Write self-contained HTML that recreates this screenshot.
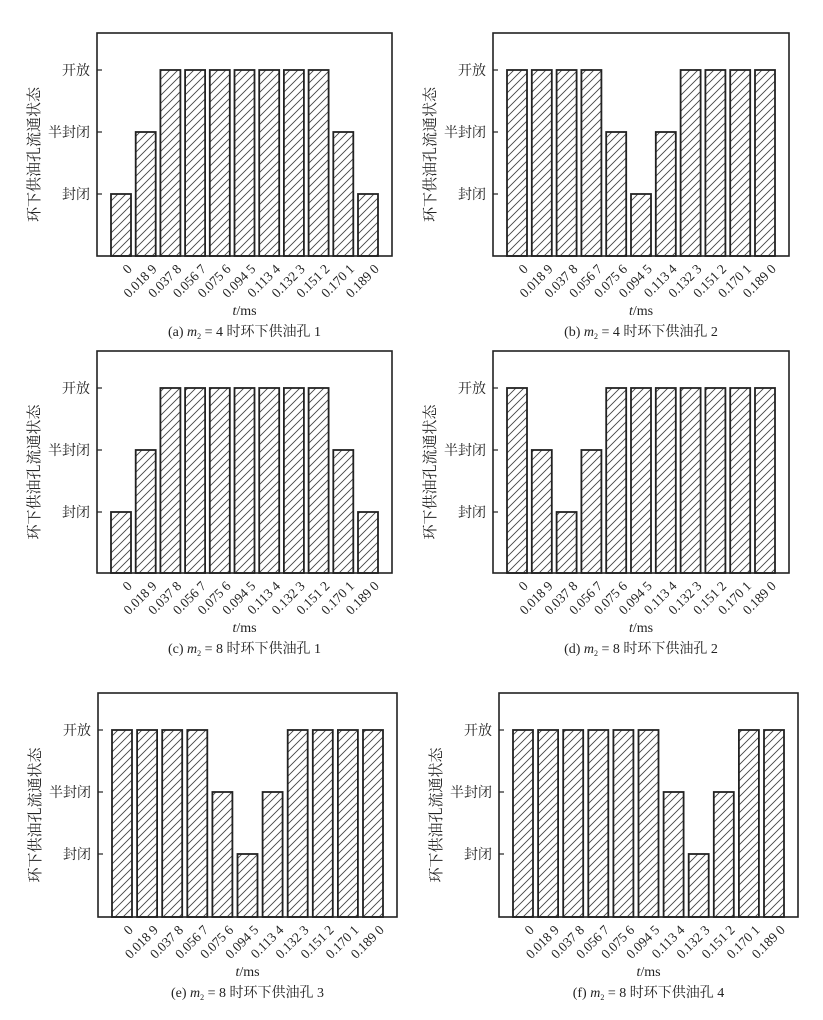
<!DOCTYPE html>
<html><head><meta charset="utf-8"><style>
body{margin:0;background:#fff;}
svg{display:block;}
text{font-family:"Liberation Serif","Noto Serif CJK SC","Noto Sans CJK SC",serif;fill:#222;}
</style></head><body>
<svg id="s" width="823" height="1020" xmlns="http://www.w3.org/2000/svg">
<defs>
<pattern id="h" patternUnits="userSpaceOnUse" width="8" height="8">
<path d="M-2,2 L2,-2 M0,8 L8,0 M6,10 L10,6" stroke="#444" stroke-width="0.9"/>
</pattern>
</defs>
</svg>
<script>
var s=document.getElementById('s'),NS="http://www.w3.org/2000/svg";
function el(t,a,txt){var e=document.createElementNS(NS,t);for(var k in a)e.setAttribute(k,a[k]);if(txt!=null)e.textContent=txt;s.appendChild(e);return e;}
var labs=["0","0.018 9","0.037 8","0.056 7","0.075 6","0.094 5","0.113 4","0.132 3","0.151 2","0.170 1","0.189 0"];
var P=[
[97,33,295,223,[1,2,3,3,3,3,3,3,3,2,1],"(a) ","4","1"],
[493,33,296,223,[3,3,3,3,2,1,2,3,3,3,3],"(b) ","4","2"],
[97,351,295,222,[1,2,3,3,3,3,3,3,3,2,1],"(c) ","8","1"],
[493,351,296,222,[3,2,1,2,3,3,3,3,3,3,3],"(d) ","8","2"],
[98,693,299,224,[3,3,3,3,2,1,2,3,3,3,3],"(e) ","8","3"],
[499,693,299,224,[3,3,3,3,3,3,2,1,2,3,3],"(f) ","8","4"]];
P.forEach(function(p){
 var x0=p[0],y0=p[1],w=p[2],h=p[3],v=p[4];
 var ty={3:y0+37,2:y0+99,1:y0+161};
 var pitch=(w-28-20)/10;
 el('rect',{x:x0,y:y0,width:w,height:h,fill:'none',stroke:'#222','stroke-width':1.6});
 var names={3:"开放",2:"半封闭",1:"封闭"};
 [1,2,3].forEach(function(k){
  el('line',{x1:x0,y1:ty[k],x2:x0+5,y2:ty[k],stroke:'#222','stroke-width':1.2});
  el('text',{x:x0-7,y:ty[k]+5,'text-anchor':'end','font-size':14},names[k]);
 });
 v.forEach(function(val,i){
  var bx=x0+14+i*pitch;
  el('rect',{x:bx,y:ty[val],width:20,height:y0+h-ty[val],fill:'url(#h)',stroke:'#222','stroke-width':1.8});
  var cx=bx+15,cy=y0+h+7;
  el('text',{x:cx,y:cy,'text-anchor':'end','font-size':13.5,transform:'rotate(-45 '+cx+' '+cy+')','dominant-baseline':'hanging'},labs[i]);
 });
 var mx=x0+w/2,my=y0+h/2+10;
 el('text',{x:x0-58,y:my,'text-anchor':'middle','font-size':15,transform:'rotate(-90 '+(x0-58)+' '+my+')'},"环下供油孔流通状态");
 var t=el('text',{x:mx,y:y0+h+59,'text-anchor':'middle','font-size':14});
 t.innerHTML='<tspan font-style="italic">t</tspan>/ms';
 var c=el('text',{x:mx,y:y0+h+80,'text-anchor':'middle','font-size':14});
 c.innerHTML=p[5]+'<tspan font-style="italic">m</tspan><tspan font-size="8" dy="3">2</tspan><tspan dy="-3"> = '+p[6]+' 时环下供油孔 '+p[7]+'</tspan>';
});
</script>
</body></html>
